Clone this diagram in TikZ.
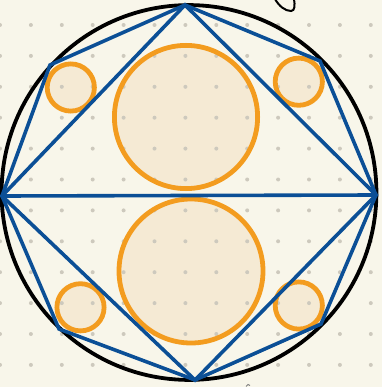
\documentclass[tikz,border=0pt]{standalone}
\usetikzlibrary{calc}
\definecolor{bgc}{HTML}{F8F6EA}
\definecolor{dotc}{HTML}{CDC9BD}
\definecolor{bluec}{HTML}{0B4F96}
\definecolor{orangec}{HTML}{F39C1F}
\definecolor{fillc}{HTML}{F5EAD4}
\tikzset{
  bluel/.style={draw=bluec, line width=3.6pt, line join=miter, miter limit=2},
  ocirc/.style={draw=orangec, line width=4.8pt},
  ofill/.style={fill=fillc},
  bigcirc/.style={draw=black, line width=3.8pt},
  griddot/.style={fill=dotc},
}
\begin{document}
\begin{tikzpicture}[x=1pt,y=-1pt]
\useasboundingbox (0,0) rectangle (382,387);
\fill[bgc] (0,0) rectangle (382,387);
% named vertices
\coordinate (T) at (185,5);
\coordinate (L) at (2,196);
\coordinate (R) at (376,195);
\coordinate (B) at (195,380);
\coordinate (UL) at (50,65);
\coordinate (UR) at (320,61);
\coordinate (LL) at (59,329);
\coordinate (LR) at (321,324);
\coordinate (C) at (189,192.5);
% circle fills
\fill[ofill] (186,117) circle (72);
\fill[ofill] (191,271) circle (72);
\fill[ofill] (70.8,87.5) circle (23.5);
\fill[ofill] (298.8,81.7) circle (23.5);
\fill[ofill] (80.5,307.3) circle (23.5);
\fill[ofill] (298.8,305.5) circle (23.5);
% dots
\foreach \i in {0,...,12}{
  \foreach \j in {0,...,11}{
    \fill[griddot] ({30.9*\i},{25+30.9*\j}) circle (2);
  }
}
% orange strokes
\draw[ocirc] (186,117) circle (71.6);
\draw[ocirc] (191,271) circle (72);
\draw[ocirc] (70.8,87.5) circle (23.6);
\draw[ocirc] (298.8,81.7) circle (23.6);
\draw[ocirc] (80.5,307.3) circle (23.6);
\draw[ocirc] (298.8,305.5) circle (23.6);
% black circle
\draw[bigcirc] (C) circle (187.4);
% blue lines
\draw[bluel] (T) -- (UL) -- (L) -- (LL) -- (B) -- (LR) -- (R) -- (UR) -- cycle;
\draw[bluel] (T) -- (L) -- (B) -- (R) -- cycle;
\draw[bluel] (L) -- (R);
% squiggle
\draw[black, line width=2pt, line cap=round] (275,-1) .. controls (279,6) and (285,11) .. (291,11) .. controls (295,11) and (295,5) .. (294,-1);
\draw[gray, line width=1pt] (246,386.5) .. controls (247,384) and (249,384) .. (250,385.5);
\end{tikzpicture}
\end{document}
